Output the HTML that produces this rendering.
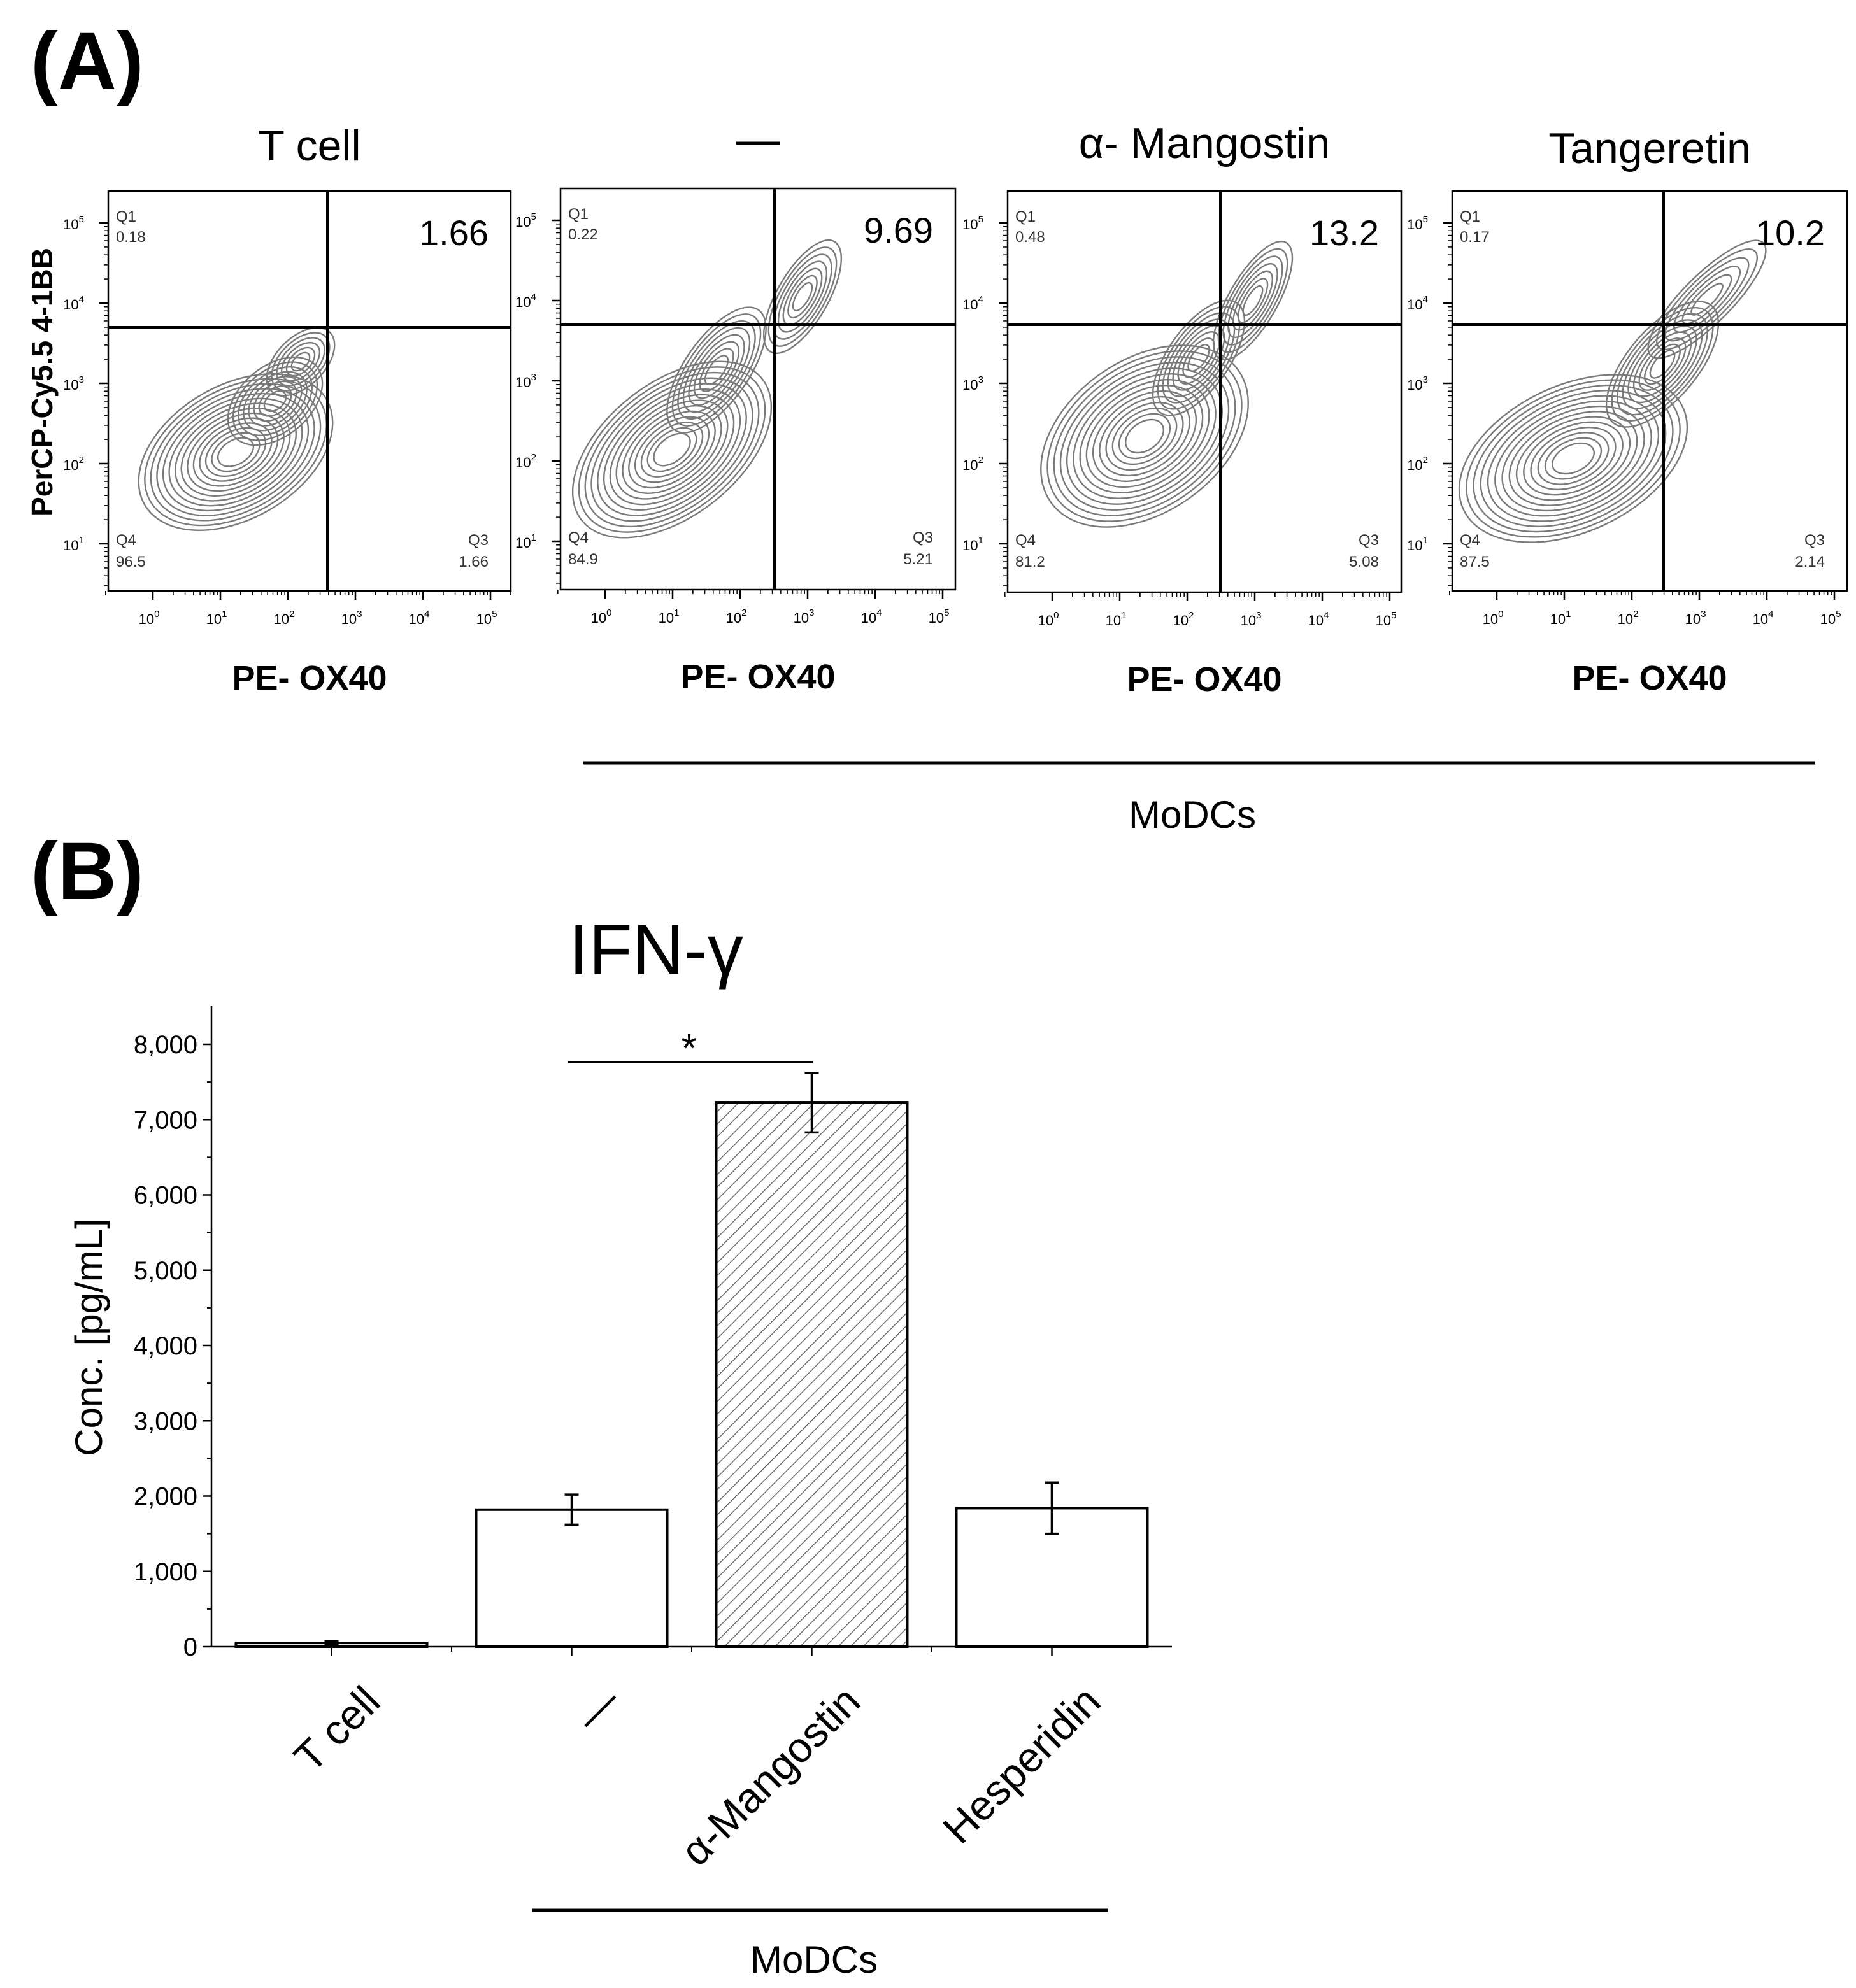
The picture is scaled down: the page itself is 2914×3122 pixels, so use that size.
<!DOCTYPE html>
<html><head><meta charset="utf-8">
<style>
html,body{margin:0;padding:0;background:#fff;}
svg{display:block;font-family:"Liberation Sans",Arial,sans-serif;}
</style></head>
<body>
<svg id="fig" width="2914" height="3122" viewBox="0 0 2914 3122" xmlns="http://www.w3.org/2000/svg">
<text x="48" y="140" font-size="128" font-weight="bold">(A)</text>
<text x="48" y="1412" font-size="128" font-weight="bold">(B)</text>
<text transform="translate(82,600) rotate(-90)" text-anchor="middle" font-size="46" font-weight="bold">PerCP-Cy5.5 4-1BB</text>
<g id="flow"></g>
<line x1="916" y1="1198" x2="2850" y2="1198" stroke="#000" stroke-width="5"/>
<text x="1872" y="1300" text-anchor="middle" font-size="60">MoDCs</text>
<g id="bar"></g>
</svg>
<script>
const NS="http://www.w3.org/2000/svg";
function mk(p,tag,attrs,txt){const e=document.createElementNS(NS,tag);for(const k in attrs)e.setAttribute(k,attrs[k]);if(txt!==undefined)e.textContent=txt;p.appendChild(e);return e;}

// ---------- Flow panels ----------
const flowTitles=["T cell","—","α- Mangostin","Tangeretin"];
const flowQ2=["1.66","9.69","13.2","10.2"];
const flowQ1=["0.18","0.22","0.48","0.17"];
const flowQ4=["96.5","84.9","81.2","87.5"];
const flowQ3=["1.66","5.21","5.08","2.14"];
const boxes=[[170,300,632,628],[880,296,620,630],[1582,300,618,630],[2280,300,620,628]];
const quad=[[344,214],[336,214],[334,210],[332,210]];
const titleY=[-48,-54,-52,-44];
const blobs=[
 [[200,410,165,105,-30,14],[262,330,85,55,-40,8],[302,268,65,38,-45,6]],
 [[175,410,180,105,-38,14],[245,285,115,50,-55,8],[380,170,100,40,-60,7]],
 [[215,385,180,120,-35,14],[300,262,105,48,-55,8],[385,172,105,38,-60,7]],
 [[190,420,190,115,-25,14],[330,272,120,55,-50,9],[400,170,125,38,-45,6]]
];
const flow=document.getElementById('flow');
boxes.forEach((b,i)=>{
 const [x0,y0,w,h]=b;
 const g=mk(flow,'g',{transform:`translate(${x0},${y0})`});
 
 
 const t=mk(g,'text',{x:w/2,y:titleY[i],'text-anchor':'middle','font-size':68},flowTitles[i]);
 
 
 const cg=mk(g,'g',{fill:'none',stroke:'#7a7a7a','stroke-width':2.4});
 blobs[i].forEach(bl=>{
  const [cx,cy,rx,ry,rot,n]=bl;
  for(let k=0;k<n;k++){const s=1-k*(0.88/n);
   const el=mk(cg,'ellipse',{cx,cy,rx:rx*s,ry:ry*s,transform:`rotate(${rot} ${cx} ${cy})`});
   
   }
 });
 const r=mk(g,'rect',{x:0,y:0,width:w,height:h,fill:'none',stroke:'#000','stroke-width':2.5});
 
 
 mk(g,'line',{x1:quad[i][0],y1:0,x2:quad[i][0],y2:h,stroke:'#000','stroke-width':4});
 mk(g,'line',{x1:0,y1:quad[i][1],x2:w,y2:quad[i][1],stroke:'#000','stroke-width':4});
 const big=mk(g,'text',{x:w-35,y:85,'text-anchor':'end','font-size':56},flowQ2[i]);
 
 
 mk(g,'text',{x:12,y:48,'font-size':24,fill:'#333'},'Q1');
 mk(g,'text',{x:12,y:80,'font-size':24,fill:'#333'},flowQ1[i]);
 mk(g,'text',{x:12,y:556,'font-size':24,fill:'#333'},'Q4');
 mk(g,'text',{x:12,y:590,'font-size':24,fill:'#333'},flowQ4[i]);
 mk(g,'text',{x:w-35,y:556,'font-size':24,fill:'#333','text-anchor':'end'},'Q3');
 mk(g,'text',{x:w-35,y:590,'font-size':24,fill:'#333','text-anchor':'end'},flowQ3[i]);
 for(let d=0;d<=5;d++){
  const tx=70+d*106;
  mk(g,'line',{x1:tx,y1:h,x2:tx,y2:h+14,stroke:'#000','stroke-width':2.5});
  for(let m=2;m<10;m++){const mx=tx+106*Math.log10(m);if(mx<w)mk(g,'line',{x1:mx,y1:h,x2:mx,y2:h+7,stroke:'#000','stroke-width':1.5});}
  mk(g,'line',{x1:tx-106*0.7,y1:h,x2:tx-106*0.7,y2:h+7,stroke:'#000','stroke-width':1.5});
  const lt=mk(g,'text',{x:tx-6,y:h+52,'font-size':22,'text-anchor':'middle'},'10');
  mk(lt,'tspan',{dy:-11,'font-size':15},String(d));
  if(d>=1){
   const ty=50+(5-d)*126;
   mk(g,'line',{x1:-14,y1:ty,x2:0,y2:ty,stroke:'#000','stroke-width':2.5});
   for(let m=2;m<10;m++){const my=ty+126-126*Math.log10(m);if(my<h)mk(g,'line',{x1:-7,y1:my,x2:0,y2:my,stroke:'#000','stroke-width':1.5});}
   const yl=mk(g,'text',{x:-38,y:ty+10,'font-size':22,'text-anchor':'end'},'10');
   mk(yl,'tspan',{dy:-11,'font-size':15},String(d));
  }
 }
 const xl=mk(g,'text',{x:w/2,y:h+155,'text-anchor':'middle','font-size':54,'font-weight':'bold'},'PE- OX40');
 
 
});

// ---------- Bar chart ----------
const categories=["T cell","—","α-Mangostin","Hesperidin"];
const means=[50,1820,7230,1840];
const errLow=[30,1620,6830,1500];
const errHigh=[70,2020,7620,2180];
const yTicks=[0,1000,2000,3000,4000,5000,6000,7000,8000];
const yTickLabels=["0","1,000","2,000","3,000","4,000","5,000","6,000","7,000","8,000"];

const X0=332,X1=1840,Y0=2586,YTOP=1580;
const yScale=v=>Y0-(v/8000)*(Y0-1640);
const bw=(X1-X0)/4;
const xCenter=i=>X0+bw*(i+0.5);
const barW=300;
const bar=document.getElementById('bar');
const defs=mk(bar,'defs',{});
const pat=mk(defs,'pattern',{id:'hatch',width:14,height:14,patternUnits:'userSpaceOnUse',patternTransform:'rotate(45)'});
mk(pat,'line',{x1:0,y1:0,x2:0,y2:14,stroke:'#555','stroke-width':2.5});

const title=mk(bar,'text',{x:1030,y:1530,'text-anchor':'middle','font-size':112},'IFN-γ');



mk(bar,'line',{x1:X0,y1:YTOP,x2:X0,y2:Y0,stroke:'#000','stroke-width':2.5});
mk(bar,'line',{x1:X0,y1:Y0,x2:X1,y2:Y0,stroke:'#000','stroke-width':2.5});
yTicks.forEach((v,i)=>{
 const y=yScale(v);
 mk(bar,'line',{x1:X0-14,y1:y,x2:X0,y2:y,stroke:'#000','stroke-width':2.5});
 if(i<yTicks.length-1){const ym=yScale(v+500);mk(bar,'line',{x1:X0-7,y1:ym,x2:X0,y2:ym,stroke:'#000','stroke-width':2});}
 const t=mk(bar,'text',{x:X0-22,y:y+14,'text-anchor':'end','font-size':40},yTickLabels[i]);
 
 
});
const yt=mk(bar,'text',{transform:'translate(160,2100) rotate(-90)','text-anchor':'middle','font-size':60},'Conc. [pg/mL]');



categories.forEach((c,i)=>{
 const cx=xCenter(i);
 mk(bar,'line',{x1:cx,y1:Y0,x2:cx,y2:Y0+14,stroke:'#000','stroke-width':2.5});
 if(i>0)mk(bar,'line',{x1:X0+bw*i,y1:Y0,x2:X0+bw*i,y2:Y0+8,stroke:'#000','stroke-width':2});
 const yb=yScale(means[i]);
 const r=mk(bar,'rect',{x:cx-barW/2,y:yb,width:barW,height:Y0-yb,fill:i===2?'url(#hatch)':'#fff',stroke:'#000','stroke-width':4});
 
 
 const yl=yScale(errLow[i]),yh=yScale(errHigh[i]);
 const eb=mk(bar,'path',{d:`M${cx},${yl}V${yh}M${cx-11},${yl}H${cx+11}M${cx-11},${yh}H${cx+11}`,stroke:'#000','stroke-width':3.5,fill:'none'});
 
 
 const lbl=mk(bar,'text',{transform:`translate(${cx+80},${Y0+90}) rotate(-45)`,'text-anchor':'end','font-size':66},c);
 
 
});
const sig=mk(bar,'line',{x1:892,y1:1668,x2:1276,y2:1668,stroke:'#000','stroke-width':3.5});


const ast=mk(bar,'text',{x:1082,y:1668,'text-anchor':'middle','font-size':64},'*');


const br=mk(bar,'line',{x1:836,y1:3000,x2:1740,y2:3000,stroke:'#000','stroke-width':5});


const mb=mk(bar,'text',{x:1278,y:3098,'text-anchor':'middle','font-size':60},'MoDCs');


</script>
</body></html>
